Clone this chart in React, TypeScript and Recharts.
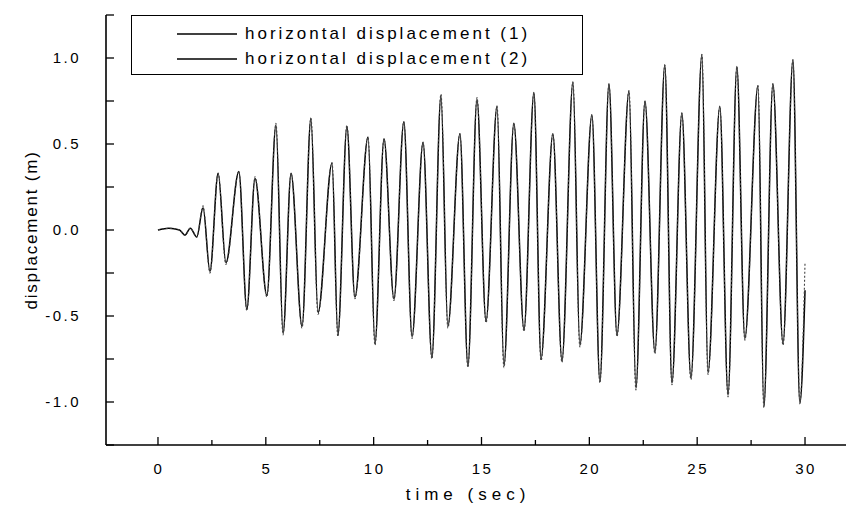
import { LineChart, Line, XAxis, YAxis, Legend } from "recharts";

// time (s) of the read-off extremes
const times = [
  0, 0.5, 1.0, 1.25, 1.5, 1.8, 2.09, 2.41, 2.79, 3.15, 3.75, 4.12, 4.5, 5.05, 5.47, 5.8,
  6.17, 6.68, 7.09, 7.42, 8.07, 8.34, 8.76, 9.13, 9.74, 10.06, 10.48, 10.94, 11.4, 11.78,
  12.29, 12.7, 13.12, 13.44, 14.0, 14.37, 14.79, 15.21, 15.72, 16.04, 16.5, 16.97, 17.43,
  17.76, 18.31, 18.73, 19.24, 19.56, 20.12, 20.49, 20.91, 21.28, 21.84, 22.16, 22.58, 23.04,
  23.5, 23.83, 24.29, 24.71, 25.22, 25.5, 26.05, 26.43, 26.84, 27.21, 27.82, 28.09, 28.51,
  28.98, 29.44, 29.76, 30.0,
];

const dispOne = [
  0, 0.01, 0.0, -0.03, 0.01, -0.04, 0.13, -0.24, 0.33, -0.19, 0.34, -0.46, 0.3, -0.38, 0.61, -0.6,
  0.33, -0.56, 0.65, -0.48, 0.39, -0.61, 0.6, -0.39, 0.54, -0.66, 0.53, -0.4, 0.63, -0.62,
  0.51, -0.74, 0.78, -0.56, 0.56, -0.79, 0.76, -0.53, 0.72, -0.79, 0.62, -0.58, 0.8,
  -0.75, 0.56, -0.76, 0.86, -0.67, 0.67, -0.88, 0.85, -0.61, 0.81, -0.92, 0.75, -0.71,
  0.96, -0.89, 0.68, -0.86, 1.02, -0.83, 0.72, -0.96, 0.95, -0.63, 0.84, -1.03, 0.85,
  -0.66, 0.99, -1.01, -0.35,
];

const dispTwo = [
  0, 0.01, 0.0, -0.03, 0.01, -0.04, 0.14, -0.25, 0.33, -0.2, 0.34, -0.47, 0.31, -0.39, 0.62, -0.61,
  0.33, -0.57, 0.65, -0.49, 0.39, -0.62, 0.61, -0.4, 0.54, -0.67, 0.53, -0.41, 0.63, -0.63,
  0.51, -0.75, 0.79, -0.57, 0.56, -0.8, 0.77, -0.54, 0.72, -0.8, 0.62, -0.59, 0.8,
  -0.76, 0.56, -0.77, 0.86, -0.68, 0.67, -0.89, 0.85, -0.62, 0.81, -0.93, 0.75, -0.72,
  0.96, -0.9, 0.68, -0.87, 1.02, -0.84, 0.72, -0.97, 0.95, -0.64, 0.84, -1.03, 0.85,
  -0.67, 0.99, -1.0, -0.19,
];

const xTicks = [0, 2.5, 5, 7.5, 10, 12.5, 15, 17.5, 20, 22.5, 25, 27.5, 30];
const yTicks = [-1.25, -1, -0.75, -0.5, -0.25, 0, 0.25, 0.5, 0.75, 1, 1.25];

const seriesNames = ["horizontal displacement (1)", "horizontal displacement (2)"];

const data = times.map((t, i) => ({ t, d1: dispOne[i], d2: dispTwo[i] }));

const FONT = "'Liberation Sans', Arial, Helvetica, sans-serif";

function YTick({ x, y, payload }: any) {
  const v = payload.value as number;
  const labelled = Math.abs(v) <= 1 && Math.abs(v * 2 - Math.round(v * 2)) < 1e-6;
  return (
    <g>
      <line x1={x} x2={x + 8} y1={y} y2={y} stroke="#000" strokeWidth={1.3} />
      {labelled && (
        <text x={x - 25} y={y + 5} textAnchor="end" fontSize={15} letterSpacing={2.5} fill="#000" fontFamily={FONT}>
          {v.toFixed(1)}
        </text>
      )}
    </g>
  );
}

function XTick({ x, y, payload }: any) {
  const v = payload.value as number;
  const major = v % 5 === 0;
  return (
    <g>
      <line x1={x} x2={x} y1={y} y2={y - (major ? 8 : 5)} stroke="#000" strokeWidth={1.3} />
      {major && (
        <text x={x + 1} y={y + 29} textAnchor="middle" fontSize={15} letterSpacing={2.5} fill="#000" fontFamily={FONT}>
          {String(v)}
        </text>
      )}
    </g>
  );
}

function LegendBox() {
  return (
    <div
      style={{
        width: 452,
        height: 60,
        border: "1.5px solid #000",
        background: "#fff",
        fontFamily: FONT,
        fontSize: 17,
        letterSpacing: 3,
        color: "#000",
        boxSizing: "border-box",
        paddingTop: 5,
        textAlign: "left",
      }}
    >
      {seriesNames.map((name) => (
        <div key={name} style={{ display: "flex", alignItems: "center", height: 25 }}>
          <svg width={60} height={4} style={{ marginLeft: 45 }}>
            <line x1={0} x2={60} y1={2} y2={2} stroke="#000" strokeWidth={1.4} />
          </svg>
          <span style={{ marginLeft: 8, whiteSpace: "nowrap" }}>{name}</span>
        </div>
      ))}
    </div>
  );
}

export default function App() {
  return (
    <div style={{ position: "absolute", left: 0, top: 0, width: 850, height: 508, background: "#fff" }}>
      <LineChart width={850} height={508} data={data} margin={{ top: 15, right: 4, bottom: 0, left: 0 }}>
        <XAxis
          dataKey="t"
          type="number"
          domain={[-2.41, 31.9]}
          ticks={xTicks}
          interval={0}
          height={63}
          tickSize={0}
          tickMargin={0}
          tickLine={false}
          tick={<XTick />}
          axisLine={{ stroke: "#000", strokeWidth: 1.6 }}
          allowDataOverflow
          label={{
            content: ({ viewBox }: any) => (
              <text
                x={viewBox.x + viewBox.width / 2 - 8}
                y={viewBox.y + 55}
                textAnchor="middle"
                fontSize={17}
                letterSpacing={5}
                fontFamily={FONT}
                fill="#000"
              >
                time (sec)
              </text>
            ),
          }}
        />
        <YAxis
          type="number"
          domain={[-1.25, 1.25]}
          ticks={yTicks}
          interval={0}
          width={106}
          tickSize={0}
          tickMargin={0}
          tickLine={false}
          tick={<YTick />}
          axisLine={{ stroke: "#000", strokeWidth: 1.6 }}
          allowDataOverflow
          label={{
            content: ({ viewBox }: any) => {
              const cx = viewBox.x + 37;
              const cy = viewBox.y + viewBox.height / 2;
              return (
                <text
                  x={cx}
                  y={cy}
                  transform={`rotate(-90 ${cx} ${cy})`}
                  textAnchor="middle"
                  fontSize={17}
                  letterSpacing={1.8}
                  fontFamily={FONT}
                  fill="#000"
                >
                  displacement (m)
                </text>
              );
            },
          }}
        />
        <Legend
          layout="horizontal"
          verticalAlign="middle"
          align="center"
          content={() => <LegendBox />}
          wrapperStyle={{ position: "absolute", left: 131, top: 15, width: 452, height: 60 }}
        />
        <Line
          type="monotone"
          dataKey="d1"
          name={seriesNames[0]}
          stroke="#000"
          strokeWidth={1.5}
          dot={false}
          isAnimationActive={false}
        />
        <Line
          type="monotone"
          dataKey="d2"
          name={seriesNames[1]}
          stroke="#444"
          strokeWidth={1.1}
          strokeDasharray="2 2"
          dot={false}
          isAnimationActive={false}
        />
      </LineChart>
    </div>
  );
}
